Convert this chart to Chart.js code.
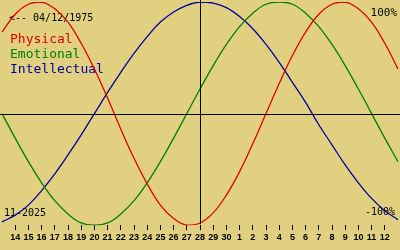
<!DOCTYPE html>
<html>
<head>
<meta charset="utf-8">
<script src="https://cdn.jsdelivr.net/npm/chart.js@4/dist/chart.umd.min.js"></script>
<style>
  body { margin: 0; background: #e0d080; }
  #wrap { width: 400px; height: 250px; }
</style>
</head>
<body>
<div id="wrap"><canvas id="bio-chart" width="400" height="250"></canvas></div>
<script>
// days on the x axis, the middle one (28) is today
var days = [13, 14, 15, 16, 17, 18, 19, 20, 21, 22, 23, 24, 25, 26, 27, 28,
            29, 30, 1, 2, 3, 4, 5, 6, 7, 8, 9, 10, 11, 12, 13];
var centerIndex = 15;

// values, one per day (-1 .. 1)
var physical = [0.73, 0.89, 0.98, 1.00, 0.94, 0.82, 0.63, 0.40, 0.14, -0.14, -0.40,
                -0.63, -0.82, -0.94, -1.00, -0.98, -0.89, -0.73, -0.52, -0.27, 0.00,
                0.27, 0.52, 0.73, 0.89, 0.98, 1.00, 0.94, 0.82, 0.63, 0.40];
var emotional = [0.00, -0.22, -0.43, -0.62, -0.78, -0.90, -0.98, -1.00, -0.98, -0.90,
                 -0.78, -0.62, -0.43, -0.22, 0.00, 0.22, 0.43, 0.62, 0.78, 0.90, 0.98,
                 1.00, 0.98, 0.90, 0.78, 0.62, 0.43, 0.22, 0.00, -0.22, -0.43];
var intellectual = [-0.97, -0.91, -0.82, -0.69, -0.54, -0.37, -0.19, 0.00, 0.19, 0.37,
                    0.54, 0.69, 0.82, 0.91, 0.97, 1.00, 0.99, 0.95, 0.87, 0.76, 0.62,
                    0.46, 0.28, 0.10, -0.10, -0.28, -0.46, -0.62, -0.76, -0.87, -0.95];

var seriesNames = ['Physical', 'Emotional', 'Intellectual'];
var seriesColors = ['#e00000', '#008000', '#0000a0'];
var birthDate = '04/12/1975';
var monthLabel = '11-2025';

var mono = '"DejaVu Sans Mono", monospace';

// texts under the curves, cross lines on top of them
var bioDecor = {
  id: 'bioDecor',
  beforeDatasetsDraw: function(chart) {
    var c = chart.ctx;
    c.save();
    c.textAlign = 'left';
    c.textBaseline = 'alphabetic';
    c.fillStyle = '#000';
    c.font = '10px ' + mono;
    c.fillText('<-- ' + birthDate, 9, 21);
    c.fillText(monthLabel, 4, 216);
    c.fillText('-100%', 365, 215);
    c.font = '11px ' + mono;
    c.textAlign = 'right';
    c.fillText('100%', 397, 16);
    c.textAlign = 'left';
    c.font = '13px ' + mono;
    for (var i = 0; i < seriesNames.length; i++) {
      c.fillStyle = seriesColors[i];
      c.fillText(seriesNames[i], 10, 43 + i * 14.8);
    }
    c.restore();
  },
  afterDatasetsDraw: function(chart) {
    var c = chart.ctx;
    var x = Math.round(chart.scales.x.getPixelForValue(centerIndex)) + 0.5;
    var y = Math.round(chart.scales.y.getPixelForValue(0)) + 0.5;
    c.save();
    c.strokeStyle = '#000';
    c.lineWidth = 1;
    c.beginPath();
    c.moveTo(0, y);
    c.lineTo(chart.width, y);
    c.moveTo(x, 0);
    c.lineTo(x, chart.chartArea.bottom - 1);
    c.stroke();
    c.restore();
  }
};

function edgeTick(i) {
  return i === 0 || i === days.length - 1;
}

var ctx = document.getElementById('bio-chart');
var bioChart = new Chart(ctx, {
  type: 'line',
  data: {
    labels: days,
    datasets: seriesNames.map(function(name, i) {
      return {
        label: name,
        data: [physical, emotional, intellectual][i],
        borderColor: seriesColors[i],
        borderWidth: 1.3,
        fill: false
      };
    })
  },
  options: {
    responsive: false,
    animation: false,
    layout: { padding: { top: 2, bottom: 5, left: 0, right: 0 } },
    elements: {
      point: { radius: 0 },
      line: { tension: 0.4 }
    },
    plugins: {
      legend: { display: false },
      tooltip: { enabled: false }
    },
    scales: {
      x: {
        offset: false,
        border: { display: false },
        grid: {
          drawOnChartArea: false,
          tickLength: 5,
          tickColor: function(c) { return edgeTick(c.index) ? 'rgba(0,0,0,0)' : '#000'; }
        },
        ticks: {
          autoSkip: false,
          maxRotation: 0,
          padding: 2,
          color: '#000',
          font: { family: '"Liberation Sans", sans-serif', size: 9, weight: 'bold' },
          callback: function(v, i) { return edgeTick(i) ? '' : days[i]; }
        }
      },
      y: { display: false, min: -1, max: 1 }
    }
  },
  plugins: [bioDecor]
});
</script>
</body>
</html>
